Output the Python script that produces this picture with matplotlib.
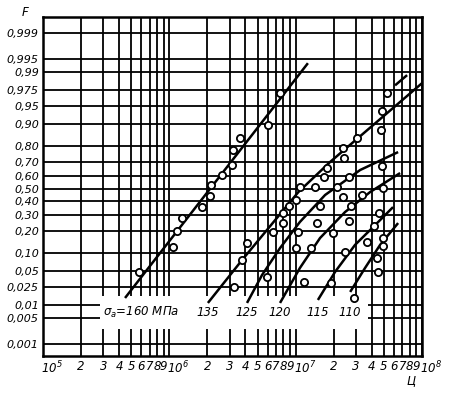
import math
import numpy as np
import matplotlib
matplotlib.use('Agg')
import matplotlib.pyplot as plt
from matplotlib.patches import Rectangle
from matplotlib.ticker import NullLocator
from matplotlib.transforms import ScaledTranslation

plt.rcParams['font.family'] = ['DejaVu Sans']
plt.rcParams['font.style'] = 'italic'
plt.rcParams['mathtext.default'] = 'it'

# test points: cycles to failure N and probability F
n_160 = [5.75e5, 1.07e6, 1.15e6, 1.26e6, 1.82e6, 2.10e6, 2.14e6, 2.61e6, 3.13e6, 3.19e6, 3.63e6, 6.04e6, 7.52e6]
f_160 = [0.0485, 0.122, 0.199, 0.279, 0.356, 0.441, 0.528, 0.606, 0.680, 0.778, 0.842, 0.897, 0.971]

n_135 = [3.25e6, 3.77e6, 4.12e6, 6.62e6, 7.94e6, 7.94e6, 8.87e6, 1.01e7, 1.08e7, 1.68e7, 1.77e7,
         2.42e7, 2.37e7, 3.06e7, 4.74e7, 4.83e7, 5.30e7]
f_135 = [0.0251, 0.0777, 0.139, 0.194, 0.246, 0.313, 0.364, 0.409, 0.512, 0.591, 0.658,
         0.728, 0.790, 0.842, 0.878, 0.938, 0.972]

n_125 = [5.94e6, 1.01e7, 1.04e7, 1.48e7, 1.56e7, 1.43e7, 2.13e7, 2.37e7, 2.65e7, 4.83e7]
f_125 = [0.0393, 0.118, 0.194, 0.246, 0.364, 0.512, 0.512, 0.433, 0.591, 0.673]

n_120 = [1.17e7, 1.32e7, 1.98e7, 2.65e7, 2.75e7, 3.36e7, 4.92e7]
f_120 = [0.0315, 0.118, 0.188, 0.259, 0.364, 0.449, 0.504]

n_115 = [1.91e7, 2.46e7, 3.67e7, 4.18e7, 4.57e7]
f_115 = [0.0301, 0.1035, 0.144, 0.228, 0.313]

n_110 = [2.90e7, 4.42e7, 4.49e7, 4.92e7, 4.92e7]
f_110 = [0.0147, 0.0835, 0.0485, 0.1265, 0.1625]

# fitted distribution curves
fit_160_n = [4.46e5, 1.25e7]
fit_160_f = [0.0147, 0.9937]
fit_135_n = [2.02e6, 3.77e6, 1.05e7, 1.87e7, 1.0e8]
fit_135_f = [0.0114, 0.0777, 0.472, 0.701, 0.982]
fit_125_n = [4.12e6, 5.42e6, 7.52e6, 1.08e7, 1.71e7, 3.24e7, 6.47e7]
fit_125_f = [0.0114, 0.0427, 0.118, 0.253, 0.449, 0.644, 0.766]
fit_120_n = [7.52e6, 1.08e7, 1.56e7, 2.46e7, 3.88e7, 6.71e7]
fit_120_f = [0.0114, 0.0569, 0.1625, 0.320, 0.472, 0.621]
fit_115_n = [1.50e7, 2.05e7, 2.95e7, 4.26e7, 5.90e7]
fit_115_f = [0.0133, 0.0485, 0.131, 0.234, 0.356]
fit_110_n = [2.70e7, 3.54e7, 4.66e7, 6.47e7]
fit_110_f = [0.0198, 0.0569, 0.131, 0.246]
mark_n = [6.12e7, 7.62e7]
mark_f = [0.980, 0.988]

stress_labels = ['σ$_a$=160 МПа', '135', '125', '120', '115', '110']
label_n = [3.0e5, 2.02e6, 4.12e6, 7.52e6, 1.50e7, 2.70e7]

f_ticks = [0.999, 0.995, 0.99, 0.975, 0.95, 0.90, 0.80, 0.70, 0.60, 0.50, 0.40,
           0.30, 0.20, 0.10, 0.05, 0.025, 0.01, 0.005, 0.001]
f_labels = ['0,999', '0,995', '0,99', '0,975', '0,95', '0,90', '0,80', '0,70', '0,60', '0,50',
            '0,40', '0,30', '0,20', '0,10', '0,05', '0,025', '0,01', '0,005', '0,001']

# normal probability scale
_z = np.linspace(-7, 7, 2801)
_p = 0.5 * (1 + np.array([math.erf(v / math.sqrt(2)) for v in _z]))
_erf = np.vectorize(math.erf, otypes=[float])


def prob_to_z(p):
    p = np.clip(np.asarray(p, dtype=float), 1e-12, 1 - 1e-12)
    return np.interp(p, _p, _z)


def z_to_prob(z):
    return 0.5 * (1 + _erf(np.asarray(z, dtype=float) / math.sqrt(2)))


fig = plt.figure(figsize=(4.58, 3.97), dpi=100)
ax = fig.add_axes([43 / 458, 1 - 356 / 397, 379 / 458, 339 / 397])
ax.set_xscale('log')
ax.set_yscale('function', functions=(prob_to_z, z_to_prob))
ax.set_xlim(1e5, 1e8)
ax.set_ylim(0.00043, 0.99968)

x_pos = [m * 10.0 ** e for e in (5, 6, 7) for m in range(1, 10)] + [1e8]
x_lab = []
is_decade = []
for v in x_pos:
    e = int(round(math.log10(v)))
    dec = abs(v - 10.0 ** e) < 1e-6 * v
    is_decade.append(dec)
    if dec:
        x_lab.append('10$^{%d}$' % e)
    else:
        x_lab.append('%d' % round(v / 10.0 ** math.floor(math.log10(v))))
ax.set_xticks(x_pos, x_lab)
ax.xaxis.set_minor_locator(NullLocator())
ax.set_yticks(f_ticks, f_labels)
ax.yaxis.set_minor_locator(NullLocator())
ax.tick_params(length=0, labelsize=8, pad=3)

shift = ScaledTranslation(-2 / 100, 0, fig.dpi_scale_trans)
for lab, dec in zip(ax.get_xticklabels(), is_decade):
    lab.set_fontfamily(['Liberation Sans Narrow', 'DejaVu Sans'])
    lab.set_fontsize(8.5)
    if dec:
        lab.set_horizontalalignment('left')
        lab.set_transform(lab.get_transform() + shift)

ax.set_axisbelow(True)
ax.grid(True, which='major', color='black', lw=1.3)
for s in ax.spines.values():
    s.set_linewidth(1.8)

ax.add_patch(Rectangle((0.150, 0.080), 0.708, 0.097, transform=ax.transAxes,
                       facecolor='white', edgecolor='none', zorder=1))

fits = [(fit_160_n, fit_160_f), (fit_135_n, fit_135_f), (fit_125_n, fit_125_f),
        (fit_120_n, fit_120_f), (fit_115_n, fit_115_f), (fit_110_n, fit_110_f),
        (mark_n, mark_f)]
for n, f in fits:
    ax.plot(n, f, color='black', lw=1.8, zorder=2, solid_capstyle='butt')

for n, f in [(n_160, f_160), (n_135, f_135), (n_125, f_125),
             (n_120, f_120), (n_115, f_115), (n_110, f_110)]:
    ax.plot(n, f, 'o', ms=5.2, mfc='white', mec='black', mew=1.3, zorder=3)

for i, (txt, n) in enumerate(zip(stress_labels, label_n)):
    ax.text(n, 0.0067, txt, ha='left' if i == 0 else 'center', va='center',
            fontsize=8.5, zorder=4)

fig.text(25 / 458, 1 - 12 / 397, 'F', fontsize=8.5, ha='center', va='center')
fig.text(411 / 458, 1 - 381 / 397, 'Ц', fontsize=8.5, ha='center', va='center')

fig.savefig('out.png', dpi=100)
